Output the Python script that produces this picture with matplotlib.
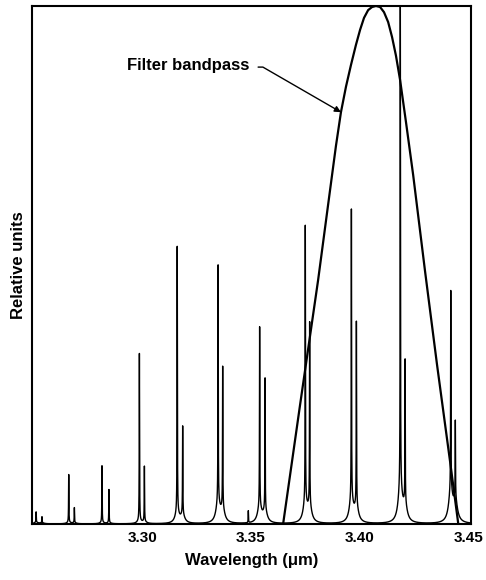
import numpy as np
import matplotlib
matplotlib.use("Agg")
import matplotlib.pyplot as plt

plt.rcParams['font.family'] = ['Liberation Sans', 'DejaVu Sans']

# ---- data ----
line_wl = [3.2512, 3.2539, 3.2662, 3.2688, 3.2815, 3.2847, 3.2987, 3.3010,
           3.3161, 3.3186, 3.3349, 3.3370, 3.3488, 3.3540, 3.3565, 3.3750,
           3.3770, 3.3962, 3.3985, 3.4187, 3.4209, 3.4419, 3.4440]
line_peak = [0.023, 0.0135, 0.095, 0.031, 0.112, 0.066, 0.328, 0.110,
             0.533, 0.185, 0.494, 0.295, 0.023, 0.376, 0.276, 0.569,
             0.380, 0.602, 0.382, 1.000, 0.303, 0.442, 0.187]
line_wing = [0.003, 0.002, 0.003, 0.002, 0.003, 0.002, 0.006, 0.004,
             0.022, 0.016, 0.040, 0.025, 0.0, 0.032, 0.024, 0.040,
             0.030, 0.045, 0.030, 0.070, 0.030, 0.060, 0.040]

filter_wl = [3.3648, 3.3726, 3.3809, 3.3864, 3.3891, 3.3914, 3.3937, 3.3960,
             3.3983, 3.4002, 3.4020, 3.4039, 3.4057, 3.4075, 3.4094, 3.4112,
             3.4131, 3.4149, 3.4167, 3.4186, 3.4213, 3.4246, 3.4301, 3.4356,
             3.4416, 3.4453]
filter_val = [0.000, 0.230, 0.471, 0.645, 0.730, 0.795, 0.844, 0.886,
              0.925, 0.954, 0.977, 0.992, 0.998, 1.000, 0.998, 0.988,
              0.969, 0.940, 0.904, 0.857, 0.776, 0.674, 0.487, 0.307,
              0.120, 0.002]

label_text = 'Filter bandpass'
label_pos = (3.2930, 0.886)
arrow_start = (3.3533, 0.882)
arrow_tip = (3.3914, 0.795)

xticks = [3.30, 3.35, 3.40, 3.45]
xtick_labels = ['3.30', '3.35', '3.40', '3.45']

# ---- figure ----
fig = plt.figure(figsize=(4.86, 5.80), dpi=100)
ax = fig.add_axes([0.0658, 0.0966, 0.9033, 0.8931])
xlim = (3.2493, 3.4512)

# spectrum rendered from line list (narrow core + broad wing per line)
g_core = 0.00008
g_wing = 0.0011
grid = np.linspace(xlim[0], xlim[1], 40001)
spec = np.zeros_like(grid)
for c, h, w in zip(line_wl, line_peak, line_wing):
    spec += (h - w) * g_core**2 / ((grid - c)**2 + g_core**2)
    spec += w * g_wing**2 / ((grid - c)**2 + g_wing**2)
ax.plot(grid, spec, color='black', lw=1.0)

ax.plot(filter_wl, filter_val, color='black', lw=1.6,
        solid_joinstyle='round', solid_capstyle='round')

ax.text(label_pos[0], label_pos[1], label_text, fontsize=12,
        fontweight='bold', ha='left', va='center')
ax.annotate('', xy=arrow_tip, xytext=arrow_start,
            arrowprops=dict(arrowstyle='-|>', color='black', lw=1.0,
                            connectionstyle='angle,angleA=0,angleB=-30,rad=0',
                            shrinkA=0, shrinkB=0, mutation_scale=9))

ax.set_xlim(*xlim)
ax.set_ylim(0, 1.0)
ax.set_xticks(xticks)
ax.set_xticklabels(xtick_labels, fontsize=11, fontweight='bold')
ax.set_yticks([])
ax.tick_params(axis='x', length=0, pad=5)
for s in ax.spines.values():
    s.set_linewidth(1.5)
ax.set_xlabel('Wavelength (\u03bcm)', fontsize=12, fontweight='bold', labelpad=6)
ax.set_ylabel('Relative units', fontsize=12, fontweight='bold', labelpad=4)

fig.savefig('out.png', dpi=100)
